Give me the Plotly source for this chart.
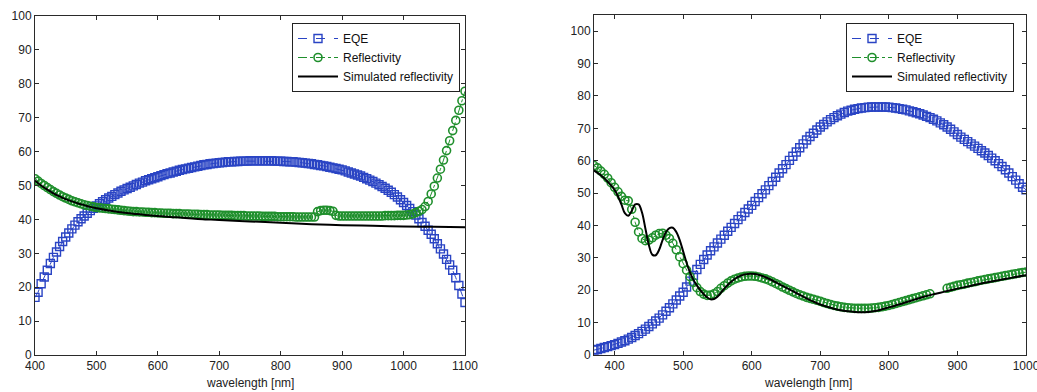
import plotly.graph_objects as go

# ---------------- data ----------------
# Left panel
wl_left = list(range(400, 1105, 5))
eqe_left = [
    17.0, 18.5, 21.0, 23.0, 25.0, 27.0, 28.8, 30.4, 32.0, 33.5,
    34.8, 36.0, 37.2, 38.3, 39.3, 40.2, 41.0, 41.8, 42.6, 43.3,
    44.0, 44.6, 45.2, 45.8, 46.3, 46.8, 47.3, 47.8, 48.3, 48.7,
    49.1, 49.5, 49.9, 50.3, 50.7, 51.0, 51.4, 51.7, 52.0, 52.3,
    52.6, 52.9, 53.2, 53.5, 53.7, 54.0, 54.2, 54.5, 54.7, 54.9,
    55.1, 55.3, 55.5, 55.7, 55.9, 56.1, 56.2, 56.4, 56.5, 56.6,
    56.7, 56.8, 56.9, 57.0, 57.0, 57.1, 57.1, 57.2, 57.2, 57.2,
    57.3, 57.3, 57.3, 57.3, 57.3, 57.3, 57.3, 57.3, 57.2, 57.2,
    57.2, 57.1, 57.1, 57.0, 57.0, 56.9, 56.8, 56.7, 56.6, 56.5,
    56.4, 56.2, 56.1, 55.9, 55.8, 55.6, 55.4, 55.2, 55.0, 54.8,
    54.6, 54.3, 54.0, 53.7, 53.4, 53.1, 52.8, 52.4, 52.0, 51.6,
    51.2, 50.7, 50.2, 49.7, 49.2, 48.6, 48.0, 47.3, 46.6, 45.8,
    45.0, 44.1, 43.2, 42.3, 41.3, 40.2, 39.1, 38.0, 36.8, 35.6,
    34.3, 32.8, 31.3, 29.8, 28.2, 26.6, 25.0, 22.8, 20.5, 18.0,
    15.5,
]
refl_left = [
    52.0, 51.3, 50.6, 50.0, 49.4, 48.8, 48.2, 47.7, 47.2, 46.7,
    46.3, 45.9, 45.5, 45.2, 44.9, 44.6, 44.3, 44.1, 43.9, 43.7,
    43.5, 43.4, 43.3, 43.2, 43.1, 43.0, 42.9, 42.8, 42.7, 42.6,
    42.5, 42.4, 42.3, 42.3, 42.2, 42.2, 42.1, 42.1, 42.0, 42.0,
    41.9, 41.9, 41.8, 41.8, 41.8, 41.7, 41.7, 41.7, 41.6, 41.6,
    41.6, 41.5, 41.5, 41.5, 41.4, 41.4, 41.4, 41.3, 41.3, 41.3,
    41.3, 41.2, 41.2, 41.2, 41.2, 41.1, 41.1, 41.1, 41.1, 41.0,
    41.0, 41.0, 41.0, 41.0, 40.9, 40.9, 40.9, 40.9, 40.9, 40.8,
    40.8, 40.8, 40.8, 40.8, 40.8, 40.7, 40.7, 40.7, 40.7, 40.7,
    40.7, 40.7, 42.3, 42.6, 42.7, 42.7, 42.6, 42.4, 41.2, 41.0,
    41.0, 41.0, 41.0, 41.0, 41.0, 41.0, 41.0, 41.0, 41.0, 41.0,
    41.0, 41.0, 41.0, 41.0, 41.1, 41.1, 41.1, 41.1, 41.2, 41.2,
    41.2, 41.3, 41.4, 41.6, 42.0, 42.4, 42.9, 43.8, 45.3, 47.5,
    49.8, 52.2, 54.8, 57.5, 60.3, 63.2, 66.2, 69.2, 72.2, 75.0,
    77.8,
]
sim_wl_left = [400, 410, 420, 430, 440, 450, 460, 470, 480, 490, 500, 520, 540,
               560, 580, 600, 620, 640, 660, 680, 700, 750, 800, 850, 900, 950,
               1000, 1050, 1100]
sim_left = [51.5, 50.0, 48.8, 47.7, 46.8, 46.0, 45.3, 44.7, 44.2, 43.7, 43.3,
            42.6, 42.1, 41.7, 41.3, 41.0, 40.7, 40.5, 40.2, 40.0, 39.8, 39.4,
            39.0, 38.6, 38.3, 38.1, 37.9, 37.8, 37.7]

# Right panel
wl_right = list(range(370, 1005, 5))
eqe_right = [
    1.5, 1.7, 2.0, 2.3, 2.6, 2.9, 3.2, 3.6, 4.0, 4.4,
    4.9, 5.4, 6.0, 6.6, 7.3, 8.0, 8.8, 9.6, 10.5, 11.4,
    12.4, 13.5, 14.6, 15.8, 17.0, 18.2, 19.4, 21.0, 22.8, 24.6,
    26.4, 28.0, 29.5, 30.9, 32.2, 33.4, 34.6, 35.8, 37.0, 38.2,
    39.4, 40.6, 41.8, 42.9, 44.0, 45.1, 46.2, 47.4, 48.6, 49.8,
    51.0, 52.3, 53.6, 54.9, 56.2, 57.5, 58.8, 60.1, 61.4, 62.7,
    64.0, 65.2, 66.4, 67.5, 68.5, 69.5, 70.4, 71.2, 72.0, 72.7,
    73.3, 73.9, 74.4, 74.9, 75.3, 75.6, 75.9, 76.1, 76.3, 76.4,
    76.5, 76.6, 76.6, 76.6, 76.6, 76.6, 76.5, 76.4, 76.3, 76.1,
    75.9, 75.7, 75.4, 75.1, 74.8, 74.5, 74.1, 73.7, 73.3, 72.8,
    72.3, 71.7, 71.1, 70.4, 69.7, 68.9, 68.1, 67.3, 66.6, 65.9,
    65.2, 64.5, 63.8, 63.1, 62.4, 61.6, 60.8, 60.0, 59.1, 58.2,
    57.2, 56.2, 55.1, 54.0, 52.9, 51.8, 51.0,
]
refl_right = [
    58.5, 57.8, 56.8, 55.8, 54.6, 53.2, 51.8, 50.4, 49.0, 47.8,
    47.6, 45.0, 41.0, 38.0, 36.0, 35.3, 35.5, 36.2, 37.0, 37.5,
    37.6, 37.0, 36.0, 34.5, 32.5, 30.3, 28.2, 26.2, 24.2, 22.4,
    20.8, 19.6, 18.8, 18.4, 18.5, 18.9, 19.6, 20.6, 21.4, 22.2,
    22.9, 23.4, 23.8, 24.1, 24.3, 24.4, 24.4, 24.3, 24.1, 23.8,
    23.5, 23.1, 22.6, 22.1, 21.6, 21.0, 20.5, 20.0, 19.5, 19.0,
    18.6, 18.2, 17.8, 17.5, 17.2, 16.9, 16.6, 16.2, 15.9, 15.6,
    15.3, 15.1, 14.9, 14.7, 14.6, 14.5, 14.4, 14.4, 14.4, 14.4,
    14.4, 14.5, 14.6, 14.7, 14.9, 15.1, 15.3, 15.6, 15.9, 16.2,
    16.5, 16.8, 17.1, 17.4, 17.7, 18.0, 18.3, 18.6, 18.9, None,
    None, None, None, 20.6, 20.9, 21.2, 21.5, 21.7, 21.9, 22.2,
    22.4, 22.6, 22.9, 23.1, 23.3, 23.5, 23.7, 23.9, 24.1, 24.3,
    24.5, 24.7, 24.9, 25.1, 25.3, 25.5, 25.6,
]
sim_wl_right = [370, 380, 390, 400, 405, 410, 415, 420, 425, 430, 435, 440, 445,
                450, 455, 460, 465, 470, 475, 480, 485, 490, 495, 500, 505, 510,
                515, 520, 525, 530, 535, 540, 545, 550, 560, 570, 580, 590, 600,
                610, 620, 630, 640, 650, 660, 670, 680, 690, 700, 710, 720, 730,
                740, 750, 760, 770, 780, 790, 800, 810, 820, 830, 840, 850, 860,
                870, 880, 890, 900, 920, 940, 960, 980, 1000]
sim_right = [57.0, 55.5, 53.5, 51.0, 49.0, 46.5, 43.8, 43.0, 44.5, 46.5, 46.5,
             44.0, 39.0, 34.0, 31.0, 30.8, 32.5, 35.5, 38.0, 39.2, 39.3, 38.0,
             35.5, 32.0, 28.5, 25.5, 23.2, 21.5, 20.0, 18.8, 17.8, 17.2, 17.3,
             18.0, 20.5, 22.6, 24.1, 24.9, 25.1, 24.8, 24.0, 23.0, 21.9, 20.8,
             19.7, 18.6, 17.5, 16.5, 15.6, 14.9, 14.3, 13.8, 13.5, 13.3, 13.2,
             13.3, 13.6, 14.1, 14.7, 15.3, 15.9, 16.6, 17.3, 17.9, 18.5, 19.0,
             19.5, 20.0, 20.5, 21.4, 22.3, 23.1, 23.9, 24.6]

x_ticks_left = [400, 500, 600, 700, 800, 900, 1000, 1100]
x_ticks_right = [400, 500, 600, 700, 800, 900, 1000]
y_ticks = [0, 10, 20, 30, 40, 50, 60, 70, 80, 90, 100]

names = ["EQE", "Reflectivity", "Simulated reflectivity"]
x_title = "wavelength [nm]"

# ---------------- styling ----------------
BLUE = "#2a44c4"
GREEN = "#1f8f2c"
FONT = "Liberation Sans, Arial, sans-serif"
AXC = "#2a2a2a"

fig = go.Figure()


def add_panel(xa, ya, leg, wl, eqe, refl, swl, sim):
    fig.add_trace(go.Scatter(
        x=wl, y=eqe, name=names[0], mode="lines+markers", xaxis=xa, yaxis=ya,
        legend=leg,
        line=dict(color=BLUE, width=1, dash="dash"),
        marker=dict(symbol="square-open", size=8, color=BLUE,
                    line=dict(width=1.4, color=BLUE)),
    ))
    fig.add_trace(go.Scatter(
        x=wl, y=refl, name=names[1], mode="lines+markers", xaxis=xa, yaxis=ya,
        legend=leg, connectgaps=False,
        line=dict(color=GREEN, width=1, dash="dashdot"),
        marker=dict(symbol="circle-open", size=8, color=GREEN,
                    line=dict(width=1.6, color=GREEN)),
    ))
    fig.add_trace(go.Scatter(
        x=swl, y=sim, name=names[2], mode="lines", xaxis=xa, yaxis=ya,
        legend=leg, line=dict(color="black", width=2), line_shape="spline",
    ))


add_panel("x", "y", "legend", wl_left, eqe_left, refl_left, sim_wl_left, sim_left)
add_panel("x2", "y2", "legend2", wl_right, eqe_right, refl_right, sim_wl_right, sim_right)

W, H = 1037, 392


def xdom(a, b):
    return [a / W, b / W]


def ydom(top, bot):
    return [(H - bot) / H, (H - top) / H]


axis_common = dict(
    showline=True, linecolor=AXC, linewidth=1, mirror="allticks",
    ticks="inside", ticklen=4, tickcolor=AXC, tickwidth=1,
    showgrid=False, zeroline=False, automargin=False,
    tickfont=dict(family=FONT, size=12, color="#222"),
)

legend_common = dict(
    bgcolor="white", bordercolor="#222", borderwidth=1,
    font=dict(family=FONT, size=12, color="#111"),
    xanchor="right", yanchor="top", tracegroupgap=0, itemwidth=40,
)

fig.update_layout(
    width=W, height=H,
    margin=dict(l=0, r=0, t=0, b=0),
    paper_bgcolor="white", plot_bgcolor="white",
    font=dict(family=FONT, size=12, color="#222"),
    xaxis=dict(domain=xdom(35, 465), range=[400, 1100], tickvals=x_ticks_left,
               anchor="y", ticklabeloverflow="allow", **axis_common),
    yaxis=dict(domain=ydom(16, 355), range=[0, 100], tickvals=y_ticks,
               anchor="x", **axis_common),
    xaxis2=dict(domain=xdom(594, 1026), range=[370, 1000], tickvals=x_ticks_right,
                anchor="y2", ticklabeloverflow="allow", **axis_common),
    yaxis2=dict(domain=ydom(15, 355), range=[0, 105], tickvals=y_ticks,
                anchor="x2", **axis_common),
    legend=dict(x=460 / W, y=(H - 23) / H, **legend_common),
    legend2=dict(x=1014 / W, y=(H - 23) / H, **legend_common),
    annotations=[
        dict(text=x_title, xref="paper", yref="paper", x=250 / W, y=(H - 383) / H,
             xanchor="center", yanchor="middle", showarrow=False,
             font=dict(family=FONT, size=12, color="#222")),
        dict(text=x_title, xref="paper", yref="paper", x=808 / W, y=(H - 383) / H,
             xanchor="center", yanchor="middle", showarrow=False,
             font=dict(family=FONT, size=12, color="#222")),
    ],
)

fig.write_html("out.html", config={"displayModeBar": False})

# remove the browser's default page margin so the figure fills the window exactly
with open("out.html", "r", encoding="utf-8") as f:
    html = f.read()
html = html.replace(
    "<head>",
    "<head><style>html,body{margin:0;padding:0;overflow:hidden;background:white;}</style>",
    1,
)
with open("out.html", "w", encoding="utf-8") as f:
    f.write(html)
